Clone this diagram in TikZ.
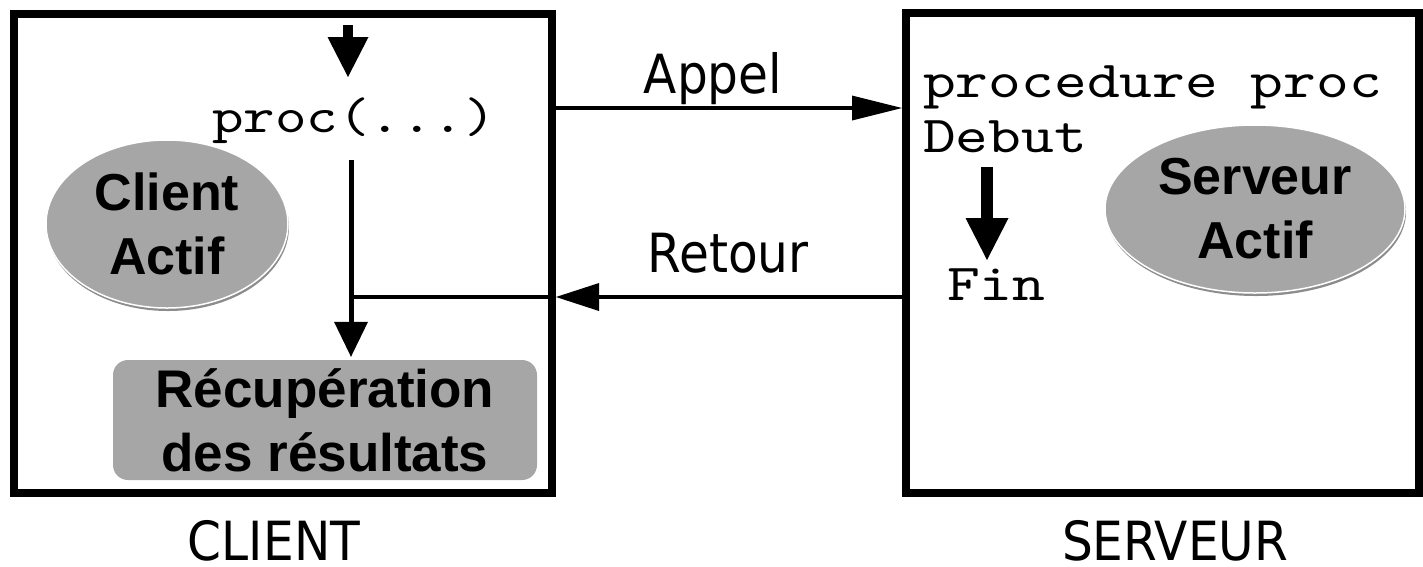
\documentclass[tikz,border=0pt]{standalone}
\usepackage{fontspec}
\usetikzlibrary{arrows.meta,shapes.geometric,shadows}
\newfontfamily\cardfont{Liberation Sans}
\newfontfamily\codefont[FakeStretch=1.2]{lmmono10-regular.otf}
\newfontfamily\tagfont[FakeStretch=0.9]{DejaVu Sans}
\definecolor{bubblegray}{HTML}{A6A6A6}
\begin{document}
\begin{tikzpicture}[x=1pt,y=-1pt,
  frame/.style={draw, line width=8pt, rectangle, inner sep=0pt},
  code/.style={font=\codefont\fontsize{52}{60}\selectfont, inner sep=0pt, anchor=base west},
  tag/.style={font=\tagfont\fontsize{54}{60}\selectfont, inner sep=0pt, anchor=base},
  bubble/.style={ellipse, fill=bubblegray, draw=white, line width=1.5pt, inner sep=0pt,
    align=center, font=\cardfont\bfseries\fontsize{52}{64}\selectfont,
    general shadow={fill=black!45, shadow yshift=-3pt, shadow xshift=1pt}},
  card/.style={rectangle, rounded corners=15pt, fill=bubblegray, inner sep=0pt,
    align=center, font=\cardfont\bfseries\fontsize{53}{64}\selectfont},
  link/.style={line width=4.5pt},
  head/.style={-{Triangle[#1,line width=0pt]}}
]
\useasboundingbox (0,0) rectangle (1423,566);

% the two processes
\node[frame, minimum width=538pt, minimum height=479.5pt] (client) at (283,253.25) {};
\node[frame, minimum width=513pt, minimum height=480.5pt] (server) at (1162.5,252.75) {};

% code lines
\node[code, font=\codefont\fontsize{50}{60}\selectfont] (proc) at (212,132) {proc(...)};
\node[code] (procdecl) at (923,97) {procedure proc};
\node[code] (debut) at (923,152) {Debut};
\node[code] (fin) at (947,300) {Fin};

% activity markers
\node[bubble, minimum width=242pt, minimum height=168pt] (cact) at (167,224) {Client\\Actif};
\node[bubble, minimum width=300pt, minimum height=168pt] (sact) at (1255,209) {Serveur\\Actif};
\node[card, minimum width=424pt, minimum height=120pt] (recup) at (325,420) {Récupération\\des résultats};

% message labels and captions
\node[tag] (appel) at (713,93) {Appel};
\node[tag] (retour) at (728,272) {Retour};
\node[tag] (clientcap) at (274,560) {CLIENT};
\node[tag] (servercap) at (1175,560) {SERVEUR};

% client flow
\coordinate (entry) at (348,25);
\coordinate (entrytip) at (348,77);
\draw[line width=10pt, head={length=40pt,width=41pt}] (entry) -- (entrytip);
\coordinate (wait) at (351,160);
\coordinate (join) at (351,297);
\draw[line width=5pt, head={length=35pt,width=34pt}, shorten >=3pt]
  (wait) -- (recup.north -| wait);

% call and return
\draw[link, head={length=50pt,width=25pt}] (client.east |- 0,108) -- (server.west |- 0,108);
\draw[link, head={length=43pt,width=28pt}] (server.west |- join) -- (client.east |- join);
\draw[link] (client.east |- join) -- (join);

% server flow
\coordinate (sstart) at (987,167);
\coordinate (send) at (987,260);
\draw[line width=12pt, head={length=42pt,width=43pt}] (sstart) -- (send);
\end{tikzpicture}
\end{document}
